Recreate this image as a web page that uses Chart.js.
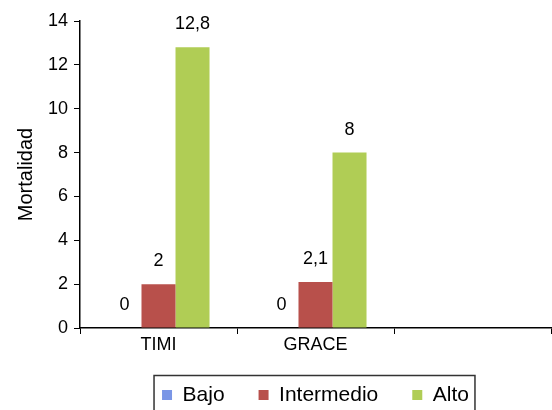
<!DOCTYPE html>
<html>
<head>
<meta charset="utf-8">
<script src="https://cdn.jsdelivr.net/npm/chart.js@4/dist/chart.umd.min.js"></script>
<style>
  html, body { margin: 0; padding: 0; background: #fff; }
  #wrap { width: 552px; height: 410px; position: relative; }
</style>
</head>
<body>
<div id="wrap"><canvas id="barChart"></canvas></div>
<script>
var categories = ["TIMI", "GRACE", ""];
var bajo = [0, 0, null];
var intermedio = [2, 2.1, null];
var alto = [12.8, 8, null];
var yTicks = [0, 2, 4, 6, 8, 10, 12, 14];

var chartColors = {
	blue: 'rgb(122, 150, 230)',
	red: 'rgb(184, 80, 75)',
	green: 'rgb(176, 205, 85)'
};
var FONT = "'Liberation Sans', Arial, Helvetica, sans-serif";

// value labels above each bar, decimal comma like the original
var valueLabels = {
	id: 'valueLabels',
	afterDatasetsDraw: function (chart) {
		var ctx = chart.ctx;
		ctx.save();
		ctx.font = '18px ' + FONT;
		ctx.fillStyle = '#000';
		ctx.textAlign = 'center';
		ctx.textBaseline = 'bottom';
		chart.data.datasets.forEach(function (ds, i) {
			chart.getDatasetMeta(i).data.forEach(function (bar, j) {
				var v = ds.data[j];
				if (v === null || v === undefined) return;
				ctx.fillText(String(v).replace('.', ','), bar.x, bar.y - 14);
			});
		});
		ctx.restore();
	}
};

// framed legend box
var legendFrame = {
	id: 'legendFrame',
	afterDraw: function (chart) {
		var boxes = chart.legend.legendHitBoxes;
		if (!boxes || !boxes.length) return;
		var first = boxes[0], last = boxes[boxes.length - 1];
		var ctx = chart.ctx;
		ctx.save();
		ctx.strokeStyle = '#333';
		ctx.lineWidth = 1.5;
		ctx.strokeRect(first.left - 8, first.top - 9, last.left + last.width - first.left + 14, 60);
		ctx.restore();
	}
};

var ctx = document.getElementById("barChart").getContext("2d");
var myChart = new Chart(ctx, {
	type: 'bar',
	data: {
		labels: categories,
		datasets: [{
			label: 'Bajo',
			backgroundColor: chartColors.blue,
			data: bajo
		}, {
			label: 'Intermedio',
			backgroundColor: chartColors.red,
			data: intermedio
		}, {
			label: 'Alto',
			backgroundColor: chartColors.green,
			data: alto
		}]
	},
	plugins: [valueLabels, legendFrame],
	options: {
		responsive: true,
		maintainAspectRatio: false,
		animation: false,
		layout: { padding: { top: 21, right: 1, left: 0, bottom: -5.5 } },
		datasets: {
			bar: { categoryPercentage: 0.65, barPercentage: 1.0 }
		},
		plugins: {
			legend: {
				position: 'bottom',
				fullSize: false,
				labels: {
					font: { family: FONT, size: 21 },
					color: '#000',
					boxWidth: 10,
					boxHeight: 10,
					padding: 34
				}
			},
			tooltip: { enabled: false }
		},
		scales: {
			x: {
				grid: {
					offset: true,
					drawOnChartArea: false,
					drawTicks: true,
					tickLength: 6,
					color: '#000'
				},
				border: { color: '#000', width: 1.5 },
				ticks: {
					font: { family: FONT, size: 18 },
					color: '#000',
					padding: 0
				},
				afterFit: function (scale) { scale.height = 22.5; }
			},
			y: {
				min: 0,
				max: 14,
				afterBuildTicks: function (scale) {
					scale.ticks = yTicks.map(function (v) { return { value: v }; });
				},
				grid: {
					drawOnChartArea: false,
					drawTicks: true,
					tickLength: 6,
					color: '#000'
				},
				border: { color: '#000', width: 1.5 },
				ticks: {
					font: { family: FONT, size: 18 },
					color: '#000',
					padding: 6
				},
				title: {
					display: true,
					text: 'Mortalidad',
					font: { family: FONT, size: 20 },
					color: '#000',
					padding: { top: 14, bottom: 0 }
				},
				afterFit: function (scale) { scale.width = 80; }
			}
		}
	}
});
</script>
</body>
</html>
